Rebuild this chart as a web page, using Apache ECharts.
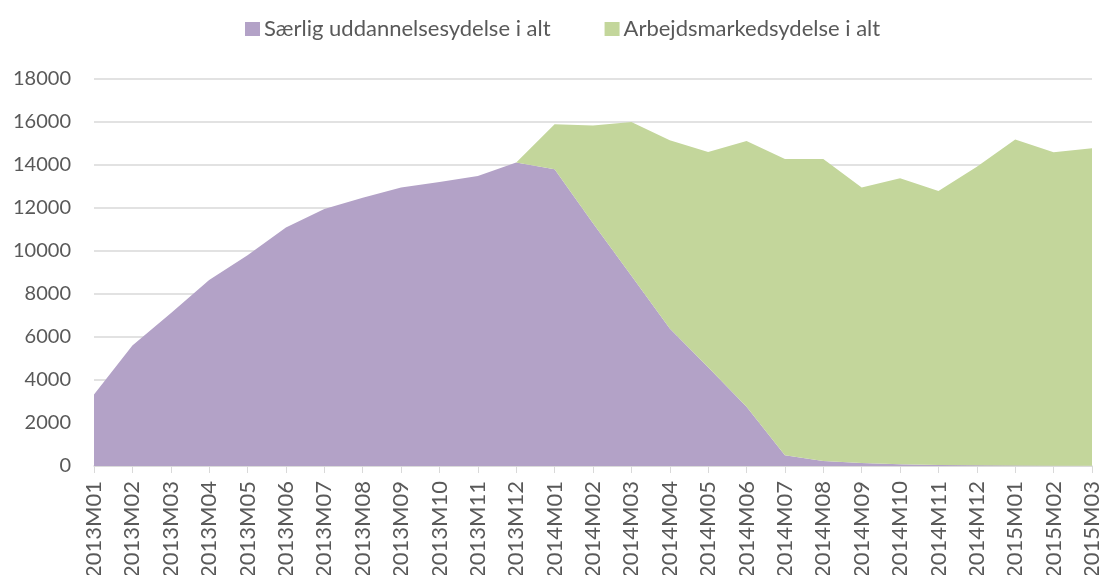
<!DOCTYPE html>
<html>
<head>
<meta charset="utf-8">
<script src="https://cdn.jsdelivr.net/npm/echarts@6/dist/echarts.min.js"></script>
<style>
    html, body { margin: 0; padding: 0; background: #fff; }
    #chart { width: 1103px; height: 575px; }
</style>
</head>
<body>
<div id="chart"></div>
<script>
// months on the x axis
const months = [
    "2013M01", "2013M02", "2013M03", "2013M04", "2013M05", "2013M06", "2013M07",
    "2013M08", "2013M09", "2013M10", "2013M11", "2013M12",
    "2014M01", "2014M02", "2014M03", "2014M04", "2014M05", "2014M06", "2014M07",
    "2014M08", "2014M09", "2014M10", "2014M11", "2014M12",
    "2015M01", "2015M02", "2015M03",
];

// Særlig uddannelsesydelse i alt
const saerlig = [
    3330, 5600, 7100, 8650, 9800, 11090, 11950, 12480, 12950, 13210, 13490, 14120,
    13800, 11290, 8850, 6400, 4590, 2760, 500, 230, 140, 80, 50, 30,
    20, 10, 10,
];

// Arbejdsmarkedsydelse i alt
const arbejds = [
    0, 0, 0, 0, 0, 0, 0, 0, 0, 0, 0, 0,
    2100, 4550, 7150, 8750, 10010, 12360, 13780, 14050, 12810, 13300, 12740, 13890,
    15170, 14580, 14770,
];

const names = ["Særlig uddannelsesydelse i alt", "Arbejdsmarkedsydelse i alt"];
const font = "Lato";

let chart = echarts.init(document.getElementById("chart"));
chart.setOption({
    animation: false,
    color: ["#B3A2C7", "#C3D69B"],
    textStyle: { fontFamily: font },
    legend: {
        top: 13,
        left: 240,
        itemWidth: 15,
        itemHeight: 14,
        itemGap: 54,
        icon: "rect",
        textStyle: { fontSize: 22, color: "#595959", fontFamily: font, padding: [0, 0, 0, -1] },
        data: names,
    },
    grid: {
        left: 94,
        right: 11,
        top: 79,
        bottom: 109,
        outerBoundsMode: "none",
        containLabel: false,
    },
    xAxis: {
        type: "category",
        boundaryGap: false,
        data: months,
        axisLine: { lineStyle: { color: "#d9d9d9", width: 1.5 } },
        axisTick: { show: true, length: 7, lineStyle: { color: "#d9d9d9" } },
        axisLabel: {
            rotate: 90,
            interval: 0,
            fontSize: 22,
            color: "#595959",
            margin: 15,
            fontFamily: font,
        },
    },
    yAxis: {
        type: "value",
        min: 0,
        max: 18000,
        interval: 2000,
        axisLine: { show: false },
        axisTick: { show: false },
        splitLine: { lineStyle: { color: "#d9d9d9", width: 1.5 } },
        axisLabel: {
            fontSize: 20,
            color: "#595959",
            margin: 23,
            fontFamily: font,
            formatter: (v) => String(v),
        },
    },
    series: [
        {
            name: names[0],
            type: "line",
            stack: "total",
            data: saerlig,
            symbol: "none",
            lineStyle: { width: 0 },
            areaStyle: { opacity: 1 },
        },
        {
            name: names[1],
            type: "line",
            stack: "total",
            data: arbejds,
            symbol: "none",
            lineStyle: { width: 0 },
            areaStyle: { opacity: 1 },
        },
    ],
});
</script>
</body>
</html>
